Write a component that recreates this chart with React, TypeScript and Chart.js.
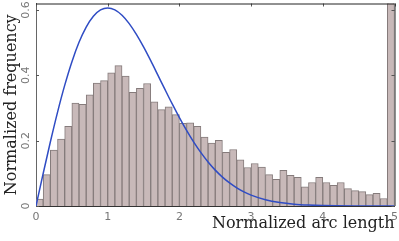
import React, { useEffect, useRef } from "react";
import { Chart, registerables } from "chart.js";

Chart.register(...registerables);

// Histogram: normalized frequency per bin of width 0.1 on [0, 5]
const binWidth = 0.1;
const binFrequency = [
  0.021, 0.096, 0.171, 0.205, 0.244, 0.315, 0.311, 0.34, 0.376, 0.384,
  0.408, 0.43, 0.398, 0.348, 0.36, 0.375, 0.319, 0.295, 0.304, 0.28,
  0.253, 0.255, 0.244, 0.211, 0.193, 0.201, 0.164, 0.173, 0.141, 0.118,
  0.13, 0.119, 0.096, 0.082, 0.109, 0.094, 0.088, 0.059, 0.072, 0.088,
  0.072, 0.063, 0.072, 0.053, 0.047, 0.044, 0.035, 0.039, 0.023, 1.0,
];

// Reference curve (blue)
const curveX = [
  0, 0.1, 0.2, 0.3, 0.4, 0.5, 0.6, 0.7, 0.8, 0.9, 1.0, 1.1, 1.2, 1.3, 1.4,
  1.5, 1.6, 1.7, 1.8, 1.9, 2.0, 2.1, 2.2, 2.3, 2.4, 2.5, 2.6, 2.7, 2.8, 2.9,
  3.0, 3.2, 3.4, 3.6, 3.8, 4.0, 4.5, 5.0,
];
const curveY = [
  0, 0.0995, 0.196, 0.2868, 0.3692, 0.4412, 0.5012, 0.5478, 0.5809, 0.6002,
  0.6065, 0.6007, 0.5841, 0.5585, 0.5254, 0.487, 0.4449, 0.4007, 0.3562,
  0.3125, 0.2707, 0.2316, 0.1956, 0.1633, 0.1347, 0.1098, 0.0885, 0.0706,
  0.0555, 0.0432, 0.0333, 0.0191, 0.0105, 0.0055, 0.0028, 0.0013, 0.0002, 0,
];

const xTicks = [0, 1, 2, 3, 4, 5];
const yTicks = [0, 0.2, 0.4, 0.6];
const xTitle = "Normalized arc length";
const yTitle = "Normalized frequency";

const framePlugin = {
  id: "frame",
  afterDatasetsDraw(chart: any) {
    const { ctx, chartArea } = chart;
    const { left, right, top, bottom } = chartArea;
    const xs = chart.scales.x;
    const ys = chart.scales.y;
    ctx.save();
    ctx.lineWidth = 1;
    ctx.strokeStyle = "#555";
    ctx.beginPath();
    for (const t of xTicks) {
      const px = Math.round(xs.getPixelForValue(t)) + 0.5;
      ctx.moveTo(px, top);
      ctx.lineTo(px, top + 3);
    }
    for (const t of yTicks) {
      const py = Math.round(ys.getPixelForValue(t)) + 0.5;
      ctx.moveTo(left, py);
      ctx.lineTo(left + 3, py);
      ctx.moveTo(right, py);
      ctx.lineTo(right - 3, py);
    }
    ctx.stroke();
    ctx.strokeStyle = "#222";
    ctx.beginPath();
    ctx.moveTo(left, top + 0.5);
    ctx.lineTo(right, top + 0.5);
    ctx.moveTo(right + 0.5, top);
    ctx.lineTo(right + 0.5, bottom);
    ctx.stroke();
    ctx.restore();
  },
};

export default function App() {
  const canvasRef = useRef<HTMLCanvasElement | null>(null);

  useEffect(() => {
    const canvas = canvasRef.current;
    if (!canvas) return;
    const bars = binFrequency.map((v, i) => ({ x: (i + 0.5) * binWidth, y: v }));
    const curve = curveX.map((x, i) => ({ x, y: curveY[i] }));
    const chart = new Chart(canvas, {
      type: "bar",
      data: {
        datasets: [
          {
            type: "line",
            data: curve,
            borderColor: "#2f4cc4",
            borderWidth: 1.5,
            pointRadius: 0,
            cubicInterpolationMode: "monotone",
            fill: false,
            order: 1,
          } as any,
          {
            type: "bar",
            data: bars,
            backgroundColor: "#c8b9b9",
            borderColor: "#857b7b",
            borderWidth: 1,
            barPercentage: 1,
            categoryPercentage: 1,
            order: 2,
          } as any,
        ],
      },
      options: {
        animation: false,
        responsive: false,
        maintainAspectRatio: false,
        layout: { padding: { left: 0, right: 4.5, top: 3.5, bottom: 0 } },
        plugins: { legend: { display: false }, tooltip: { enabled: false } },
        scales: {
          x: {
            type: "linear",
            min: 0,
            max: 5,
            offset: false,
            afterBuildTicks: (s: any) => {
              s.ticks = xTicks.map((v) => ({ value: v }));
            },
            afterFit: (s: any) => {
              s.height = 35;
              s.paddingLeft = 0;
              s.paddingRight = 0;
            },
            ticks: {
              color: "#777",
              font: { family: "DejaVu Sans", size: 11 },
              padding: 5,
              maxRotation: 0,
              autoSkip: false,
            },
            grid: { display: false, drawTicks: false, offset: false },
            border: { display: true, color: "#333", width: 1 },
            title: {
              display: true,
              text: xTitle,
              align: "end",
              color: "#222",
              font: { family: "DejaVu Serif", size: 16 },
              padding: { top: 0, bottom: 8 },
            },
          },
          y: {
            type: "linear",
            min: 0,
            max: 0.62,
            afterBuildTicks: (s: any) => {
              s.ticks = yTicks.map((v) => ({ value: v }));
            },
            afterFit: (s: any) => {
              s.width = 36;
              s.paddingTop = 0;
              s.paddingBottom = 0;
            },
            ticks: {
              color: "#777",
              font: { family: "DejaVu Sans", size: 11 },
              padding: 1.5,
              minRotation: 90,
              maxRotation: 90,
              crossAlign: "center",
              autoSkip: false,
            },
            grid: { display: false, drawTicks: false },
            border: { display: true, color: "#666", width: 1 },
            title: {
              display: true,
              text: yTitle,
              color: "#222",
              font: { family: "DejaVu Serif", size: 16 },
              padding: { top: 2, bottom: 0 },
            },
          },
        },
      },
      plugins: [framePlugin],
    });
    return () => chart.destroy();
  }, []);

  return (
    <div style={{ position: "fixed", left: 0, top: 0, width: 399, height: 241, background: "#fff" }}>
      <canvas ref={canvasRef} width={399} height={241} style={{ display: "block" }} />
    </div>
  );
}
